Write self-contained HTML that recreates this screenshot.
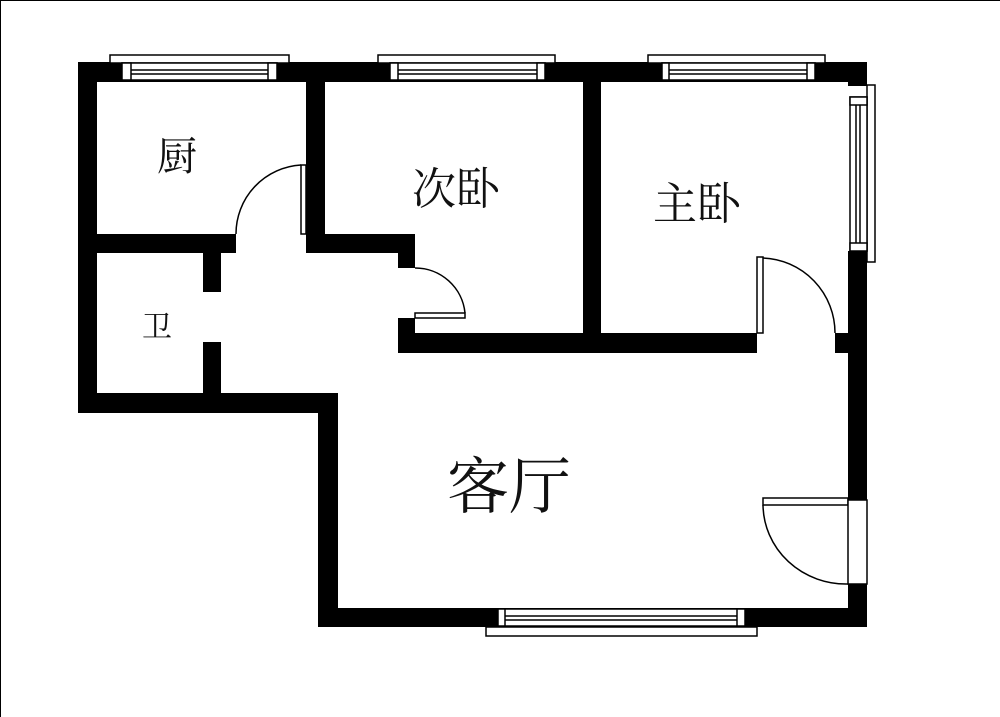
<!DOCTYPE html>
<html><head><meta charset="utf-8"><style>
html,body{margin:0;padding:0;background:#fff;}
svg{display:block}
text{font-family:"Liberation Serif","Noto Serif CJK SC",serif;fill:#111;}
</style></head><body>
<svg width="1000" height="717" viewBox="0 0 1000 717" xmlns="http://www.w3.org/2000/svg">
<rect x="0" y="0" width="1000" height="717" fill="#fff"/>
<line x1="0.5" y1="0" x2="0.5" y2="717" stroke="#000" stroke-width="1"/>
<line x1="0" y1="0.5" x2="1000" y2="0.5" stroke="#000" stroke-width="1"/>
<g fill="#000">
<!-- outer top wall -->
<rect x="78" y="62" width="789" height="20"/>
<!-- left wall -->
<rect x="78" y="62" width="19" height="351"/>
<!-- kitchen/2nd bedroom wall -->
<rect x="306" y="62" width="19" height="191"/>
<!-- kitchen bottom wall -->
<rect x="97" y="234" width="139" height="19"/>
<!-- 2nd bedroom bottom wall -->
<rect x="306" y="234" width="109" height="19"/>
<rect x="398" y="234" width="17" height="34"/>
<rect x="398" y="318" width="17" height="35"/>
<!-- 2nd/master wall -->
<rect x="583" y="62" width="18" height="291"/>
<!-- bedroom bottom wall -->
<rect x="398" y="333" width="359" height="20"/>
<rect x="835" y="333" width="32" height="20"/>
<!-- right wall -->
<rect x="848" y="62" width="19" height="24"/>
<rect x="848" y="251" width="19" height="249"/>
<rect x="848" y="584" width="19" height="43"/>
<!-- bath stubs -->
<rect x="203" y="253" width="18" height="39"/>
<rect x="203" y="342" width="18" height="51"/>
<!-- bath bottom wall -->
<rect x="78" y="393" width="260" height="20"/>
<!-- living left wall -->
<rect x="318" y="393" width="20" height="234"/>
<!-- living bottom wall -->
<rect x="318" y="608" width="549" height="19"/>
</g>
<g fill="#fff" stroke="#000" stroke-width="1.5">
<!-- kitchen window -->
<rect x="110" y="55" width="179" height="8"/>
<rect x="122" y="63" width="155" height="17"/>
<rect x="122" y="63" width="9" height="17"/>
<rect x="268" y="63" width="9" height="17"/>
<line x1="131" y1="70" x2="268" y2="70"/><line x1="131" y1="74" x2="268" y2="74"/>
<!-- 2nd bedroom window -->
<rect x="378" y="55" width="177" height="8"/>
<rect x="390" y="63" width="155" height="17"/>
<rect x="390" y="63" width="8" height="17"/>
<rect x="537" y="63" width="8" height="17"/>
<line x1="398" y1="70" x2="537" y2="70"/><line x1="398" y1="74" x2="537" y2="74"/>
<!-- master window -->
<rect x="648" y="55" width="177" height="8"/>
<rect x="662" y="63" width="153" height="17"/>
<rect x="662" y="63" width="7" height="17"/>
<rect x="807" y="63" width="8" height="17"/>
<line x1="669" y1="70" x2="807" y2="70"/><line x1="669" y1="74" x2="807" y2="74"/>
<!-- right window -->
<rect x="867" y="85" width="8" height="177"/>
<rect x="850" y="97" width="17" height="154"/>
<rect x="850" y="97" width="17" height="8"/>
<rect x="850" y="243" width="17" height="8"/>
<line x1="856" y1="105" x2="856" y2="243"/><line x1="860" y1="105" x2="860" y2="243"/>
<!-- bottom window -->
<rect x="486" y="627" width="271" height="9"/>
<rect x="498" y="609" width="247" height="17"/>
<rect x="498" y="609" width="7" height="17"/>
<rect x="737" y="609" width="8" height="17"/>
<line x1="505" y1="616" x2="737" y2="616"/><line x1="505" y1="620" x2="737" y2="620"/>
<!-- door leaves -->
<rect x="301" y="165" width="5" height="69"/>
<rect x="415" y="313" width="50" height="5"/>
<rect x="757" y="257" width="6" height="76"/>
<rect x="763" y="498" width="85" height="7"/>
<rect x="848" y="500" width="19" height="84"/>
</g>
<g fill="none" stroke="#000" stroke-width="1.5">
<path d="M301 165 A69 69 0 0 0 236 234"/>
<path d="M415 268 A50 50 0 0 1 465 313"/>
<path d="M763 258 A75 75 0 0 1 835 333"/>
<path d="M763 505 A83 80 0 0 0 848 584"/>
</g>
<text x="177" y="170" font-size="40" text-anchor="middle">厨</text>
<text x="456" y="204" font-size="44" text-anchor="middle">次卧</text>
<text x="697" y="219" font-size="44" text-anchor="middle">主卧</text>
<text x="157" y="337" font-size="30" text-anchor="middle">卫</text>
<text x="509" y="508" font-size="62" text-anchor="middle">客厅</text>
</svg>
</body></html>
